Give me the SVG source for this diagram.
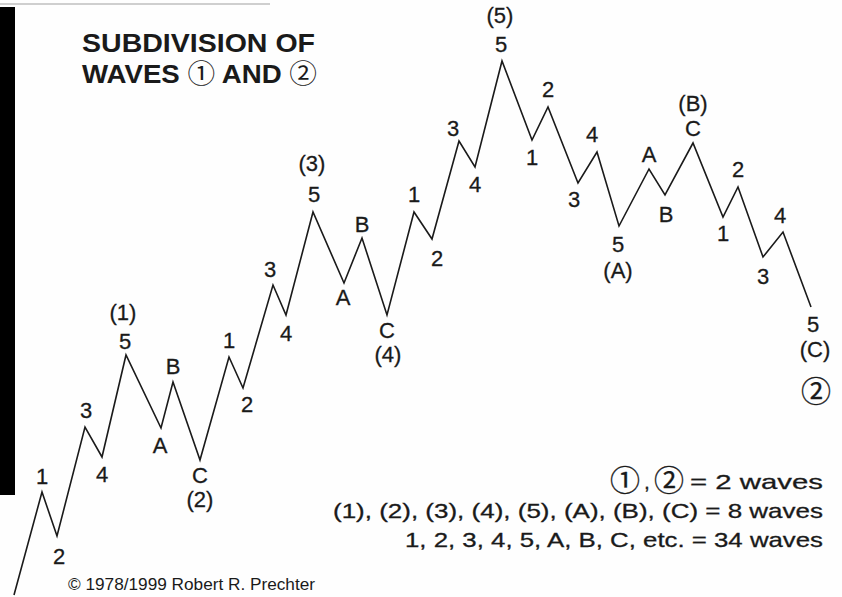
<svg xmlns="http://www.w3.org/2000/svg" width="842" height="597" viewBox="0 0 842 597">
<style>
.lbl{font-family:"Liberation Sans",Arial,sans-serif;font-size:22px;fill:#1a1a1a;stroke:#1a1a1a;stroke-width:0.3;text-anchor:middle}
.title{font-family:"Liberation Sans",Arial,sans-serif;font-size:26px;font-weight:bold;fill:#1a1a1a}
.legend{font-family:"Liberation Sans",Arial,sans-serif;font-size:21px;fill:#1a1a1a;stroke:#1a1a1a;stroke-width:0.3}
.end{text-anchor:end}
.circ{font-family:"Noto Sans CJK JP","Noto Sans CJK SC",sans-serif;font-weight:normal}
.big{font-size:30px}
.copy{font-family:"Liberation Sans",Arial,sans-serif;font-size:16.5px;fill:#1a1a1a}
.wave{fill:none;stroke:#1a1a1a;stroke-width:1.6;stroke-linejoin:miter}
</style>
<rect width="842" height="597" fill="#fefefe"/>
<rect x="0" y="7" width="15" height="488" fill="#000"/>
<line x1="0" y1="4" x2="270" y2="4" stroke="#b0b0b0" stroke-width="2" opacity="0.6"/>

<g id="title">
<text class="title" x="82" y="52" textLength="233" lengthAdjust="spacingAndGlyphs">SUBDIVISION OF</text>
<text class="title" x="82" y="83" textLength="235" lengthAdjust="spacingAndGlyphs">WAVES <tspan class="circ">①</tspan> AND <tspan class="circ">②</tspan></text>
</g>

<g id="connectors">
<polyline class="wave" points="14,595 42,492 57,536 85,427 102,457 126,355 161,428 173,382 200,460 229,357 243,388 273,285 286,315 313,212 344,283 362,238 387,315 414,212 432,239 459,141 475,167 502,61 532,140 548,107 578,183 597,152 619,226 649,169 665,195 693,143 723,217 738,187 763,257 783,232 811,307"/>
</g>

<g id="wave1-labels">
<g id="n-1-1"><text class="lbl" x="42" y="484">1</text></g>
<g id="n-1-2"><text class="lbl" x="59" y="564">2</text></g>
<g id="n-1-3"><text class="lbl" x="86" y="418">3</text></g>
<g id="n-1-4"><text class="lbl" x="102" y="482">4</text></g>
<g id="n-1-5"><text class="lbl" x="125" y="349">5</text><text class="lbl" x="123" y="320">(1)</text></g>
<g id="n-2-A"><text class="lbl" x="160" y="453">A</text></g>
<g id="n-2-B"><text class="lbl" x="173" y="374">B</text></g>
<g id="n-2-C"><text class="lbl" x="200" y="483">C</text><text class="lbl" x="200" y="507">(2)</text></g>
<g id="n-3-1"><text class="lbl" x="229" y="348">1</text></g>
<g id="n-3-2"><text class="lbl" x="247" y="412">2</text></g>
<g id="n-3-3"><text class="lbl" x="270" y="277">3</text></g>
<g id="n-3-4"><text class="lbl" x="286" y="341">4</text></g>
<g id="n-3-5"><text class="lbl" x="314" y="202">5</text><text class="lbl" x="312" y="171">(3)</text></g>
<g id="n-4-A"><text class="lbl" x="343" y="305">A</text></g>
<g id="n-4-B"><text class="lbl" x="362" y="232">B</text></g>
<g id="n-4-C"><text class="lbl" x="387" y="338">C</text><text class="lbl" x="388" y="362">(4)</text></g>
<g id="n-5-1"><text class="lbl" x="414" y="202">1</text></g>
<g id="n-5-2"><text class="lbl" x="437" y="266">2</text></g>
<g id="n-5-3"><text class="lbl" x="453" y="136">3</text></g>
<g id="n-5-4"><text class="lbl" x="475" y="192">4</text></g>
<g id="n-5-5"><text class="lbl" x="501" y="52">5</text><text class="lbl" x="500" y="23">(5)</text></g>
</g>

<g id="wave2-labels">
<g id="n-A-1"><text class="lbl" x="532" y="165">1</text></g>
<g id="n-A-2"><text class="lbl" x="548" y="97">2</text></g>
<g id="n-A-3"><text class="lbl" x="574" y="207">3</text></g>
<g id="n-A-4"><text class="lbl" x="592" y="142">4</text></g>
<g id="n-A-5"><text class="lbl" x="618" y="252">5</text><text class="lbl" x="618" y="278">(A)</text></g>
<g id="n-B-A"><text class="lbl" x="649" y="162">A</text></g>
<g id="n-B-B"><text class="lbl" x="666" y="222">B</text></g>
<g id="n-B-C"><text class="lbl" x="693" y="136">C</text><text class="lbl" x="693" y="111">(B)</text></g>
<g id="n-C-1"><text class="lbl" x="723" y="241">1</text></g>
<g id="n-C-2"><text class="lbl" x="738" y="177">2</text></g>
<g id="n-C-3"><text class="lbl" x="763" y="284">3</text></g>
<g id="n-C-4"><text class="lbl" x="780" y="223">4</text></g>
<g id="n-C-5"><text class="lbl" x="813" y="332">5</text><text class="lbl" x="815" y="357">(C)</text><text class="lbl circ big" x="816" y="402">②</text></g>
</g>

<g id="legend">
<text class="legend" x="610" y="491"><tspan class="circ big">①</tspan></text>
<text class="legend" x="644" y="489">,</text>
<text class="legend" x="654" y="491"><tspan class="circ big">②</tspan></text>
<text class="legend end" x="823" y="489" textLength="133" lengthAdjust="spacingAndGlyphs">= 2 waves</text>
<text class="legend end" x="823" y="518" textLength="490" lengthAdjust="spacingAndGlyphs">(1), (2), (3), (4), (5), (A), (B), (C) = 8 waves</text>
<text class="legend end" x="823" y="547" textLength="418" lengthAdjust="spacingAndGlyphs">1, 2, 3, 4, 5, A, B, C, etc. = 34 waves</text>
</g>

<g id="copyright">
<text class="copy" x="68" y="590" textLength="247" lengthAdjust="spacingAndGlyphs">© 1978/1999 Robert R. Prechter</text>
</g>
</svg>
